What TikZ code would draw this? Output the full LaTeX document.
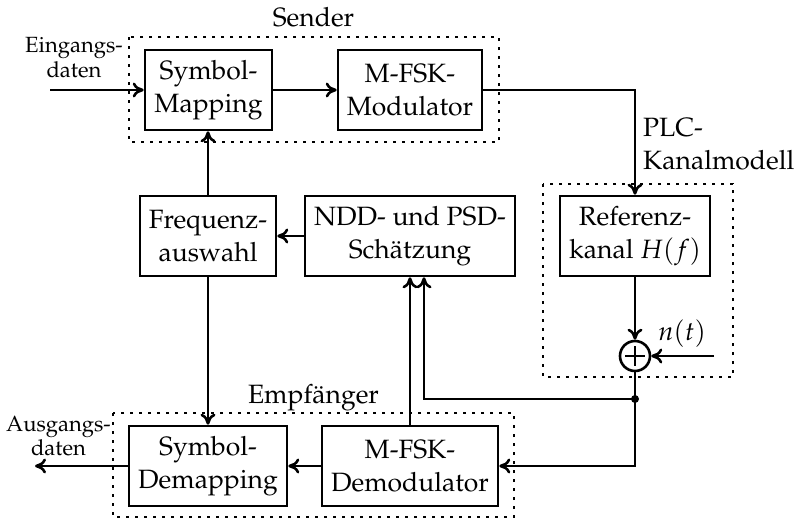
\documentclass[tikz,border=0pt]{standalone}
\usepackage[T1]{fontenc}
\usepackage{mathpazo}
\usetikzlibrary{arrows.meta}
\newcommand{\bigtxt}{\fontsize{26.5}{33.5}\selectfont}
\newcommand{\smalltxt}{\fontsize{22}{24.5}\selectfont}
\begin{document}
\begin{tikzpicture}[x=1pt,y=-1pt,
  blk/.style={draw, line width=2.6pt, minimum height=80pt, inner sep=0pt, align=center, font=\bigtxt},
  grp/.style={line width=2.6pt, dash pattern=on 2.6pt off 6.4pt},
  lbl/.style={inner sep=0pt, font=\bigtxt},
  sml/.style={inner sep=0pt, align=center, font=\smalltxt},
  arr/.style={line width=2.6pt, -{Computer Modern Rightarrow[length=11pt,width=15pt]}},
  ln/.style={line width=2.6pt}]
\useasboundingbox (0,0) rectangle (796,520);
% group frames
\draw[grp] (129,37) rectangle (499,142);
\draw[grp] (543,184) rectangle (733,377);
\draw[grp] (113,413) rectangle (514,517);
% blocks
\node[blk, minimum width=127pt] (sm) at (208.5,90) {Symbol-\\Mapping};
\node[blk, minimum width=144pt] (mod) at (410,90) {M-FSK-\\Modulator};
\node[blk, minimum width=136pt] (freq) at (208,236) {Frequenz-\\auswahl};
\node[blk, minimum width=210pt] (ndd) at (410,236) {NDD- und PSD-\\Sch\"atzung};
\node[blk, minimum width=150pt] (ref) at (635,236) {Referenz-\\kanal $H(f)$};
\node[blk, minimum width=158pt] (demap) at (208,466) {Symbol-\\Demapping};
\node[blk, minimum width=176pt] (demod) at (410,466) {M-FSK-\\Demodulator};
\node[circle, draw, line width=2.6pt, minimum size=30pt, inner sep=0pt] (sum) at (635,356) {};
\draw[ln] (sum.center) +(-10,0) -- +(10,0) (sum.center) +(0,-10) -- +(0,10);
% labels
\node[lbl, anchor=base] (sender) at (313.5,26) {Sender};
\node[lbl, anchor=base] (empf) at (313.5,403) {Empf\"anger};
\node[sml] (ein) at (74,57.5) {Eingangs-\\daten};
\node[sml] (aus) at (58.5,436) {Ausgangs-\\daten};
\node[lbl, align=left, anchor=west] (plc) at (643,144) {PLC-\\Kanalmodell};
\node[lbl] (nt) at (682,333.5) {$n(t)$};
% connectors
\coordinate (in) at (50,90);
\coordinate (out) at (35,466);
\coordinate (noise) at (714,356);
\coordinate (j) at (635,399);
\draw[arr] (in) -- (sm);
\draw[arr] (sm) -- (mod);
\draw[arr] (mod.east) -| (ref.north);
\draw[arr] (freq.north) -- (freq.north |- sm.south);
\draw[arr] (ndd) -- (freq);
\draw[arr] (freq.south) -- (freq.south |- demap.north);
\draw[arr] (demod) -- (demap);
\draw[arr] (demap) -- (out);
\draw[arr] (ref) -- (sum);
\draw[arr] (noise) -- (sum);
\draw[ln] (sum.south) -- (j);
\draw[arr] (j) |- (demod.east);
\draw[arr] (j) -| ([xshift=14pt]ndd.south);
\draw[arr] (demod.north) -- (ndd.south);
\fill (j) circle (4pt);
\end{tikzpicture}
\end{document}
